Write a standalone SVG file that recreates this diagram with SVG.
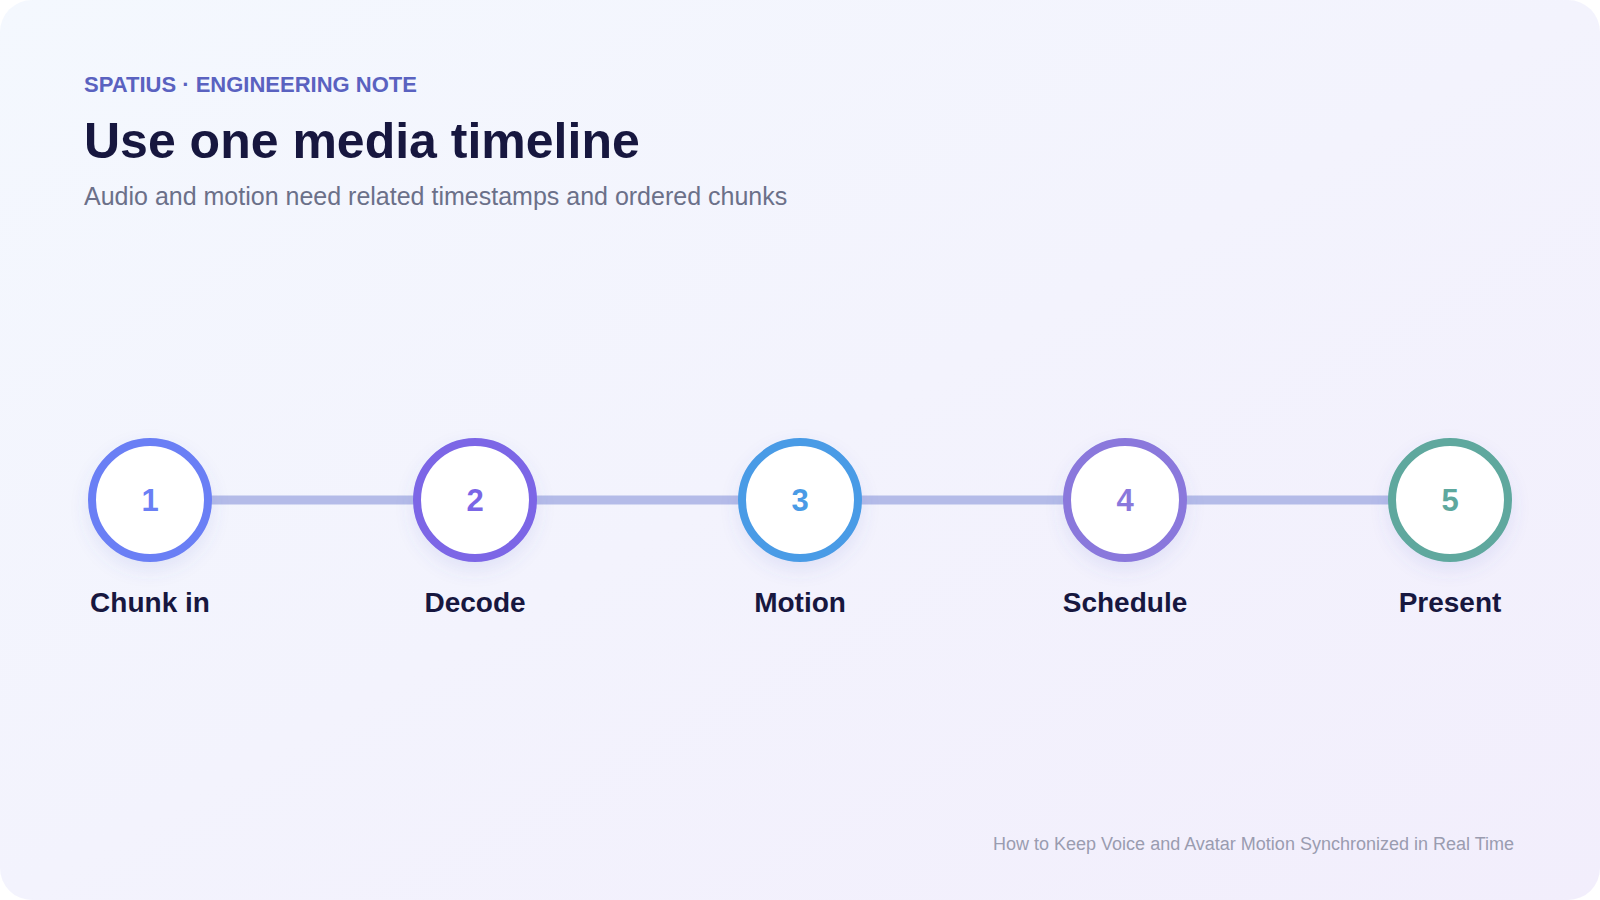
<svg xmlns="http://www.w3.org/2000/svg" width="1600" height="900" viewBox="0 0 1600 900">
  <defs>
    <linearGradient id="bg" x1="0" y1="0" x2="1" y2="1">
      <stop offset="0" stop-color="#f4f8fe"/>
      <stop offset="1" stop-color="#f2eefc"/>
    </linearGradient>
    <filter id="shadow" x="-40%" y="-40%" width="180%" height="190%">
      <feDropShadow dx="0" dy="8" stdDeviation="9" flood-color="#5a5fc8" flood-opacity="0.12"/>
    </filter>
    <style>
      .eyebrow { font-family: "Liberation Sans", Arial, sans-serif; font-weight: 700; font-size: 22px; fill: #5a62c0; }
      .title { font-family: "Liberation Sans", Arial, sans-serif; font-weight: 700; font-size: 50px; fill: #17173f; }
      .subtitle { font-family: "Liberation Sans", Arial, sans-serif; font-size: 25px; fill: #6b7089; }
      .footer { font-family: "Liberation Sans", Arial, sans-serif; font-size: 18px; fill: #9a9cb0; }
      .ring { fill: #ffffff; stroke-width: 8; filter: url(#shadow); }
      .num { font-family: "Liberation Sans", Arial, sans-serif; font-weight: 700; font-size: 31px; text-anchor: middle; }
      .label { font-family: "Liberation Sans", Arial, sans-serif; font-weight: 700; font-size: 28px; fill: #17173f; text-anchor: middle; }
      .track { stroke: #b4bbe8; stroke-width: 9; fill: none; }
    </style>
  </defs>

  <rect x="0" y="0" width="1600" height="900" fill="#ffffff"/>
  <rect x="0" y="0" width="1600" height="900" rx="32" ry="32" fill="url(#bg)"/>

  <text class="eyebrow" x="84" y="92">SPATIUS · ENGINEERING NOTE</text>
  <text class="title" x="84" y="158">Use one media timeline</text>
  <text class="subtitle" x="84" y="205">Audio and motion need related timestamps and ordered chunks</text>

  <g id="connectors">
    <line class="track" x1="150" y1="500" x2="1450" y2="500"/>
  </g>

  <g id="node-1">
    <circle class="ring" cx="150" cy="500" r="58" stroke="#6b7ff5"/>
    <text class="num" x="150" y="511" fill="#6b7ff5">1</text>
    <text class="label" x="150" y="612">Chunk in</text>
  </g>
  <g id="node-2">
    <circle class="ring" cx="475" cy="500" r="58" stroke="#7b66e6"/>
    <text class="num" x="475" y="511" fill="#7b66e6">2</text>
    <text class="label" x="475" y="612">Decode</text>
  </g>
  <g id="node-3">
    <circle class="ring" cx="800" cy="500" r="58" stroke="#4a9be6"/>
    <text class="num" x="800" y="511" fill="#4a9be6">3</text>
    <text class="label" x="800" y="612">Motion</text>
  </g>
  <g id="node-4">
    <circle class="ring" cx="1125" cy="500" r="58" stroke="#8a78dc"/>
    <text class="num" x="1125" y="511" fill="#8a78dc">4</text>
    <text class="label" x="1125" y="612">Schedule</text>
  </g>
  <g id="node-5">
    <circle class="ring" cx="1450" cy="500" r="58" stroke="#5ea89e"/>
    <text class="num" x="1450" y="511" fill="#5ea89e">5</text>
    <text class="label" x="1450" y="612">Present</text>
  </g>

  <text class="footer" x="1514" y="850" text-anchor="end">How to Keep Voice and Avatar Motion Synchronized in Real Time</text>
</svg>
